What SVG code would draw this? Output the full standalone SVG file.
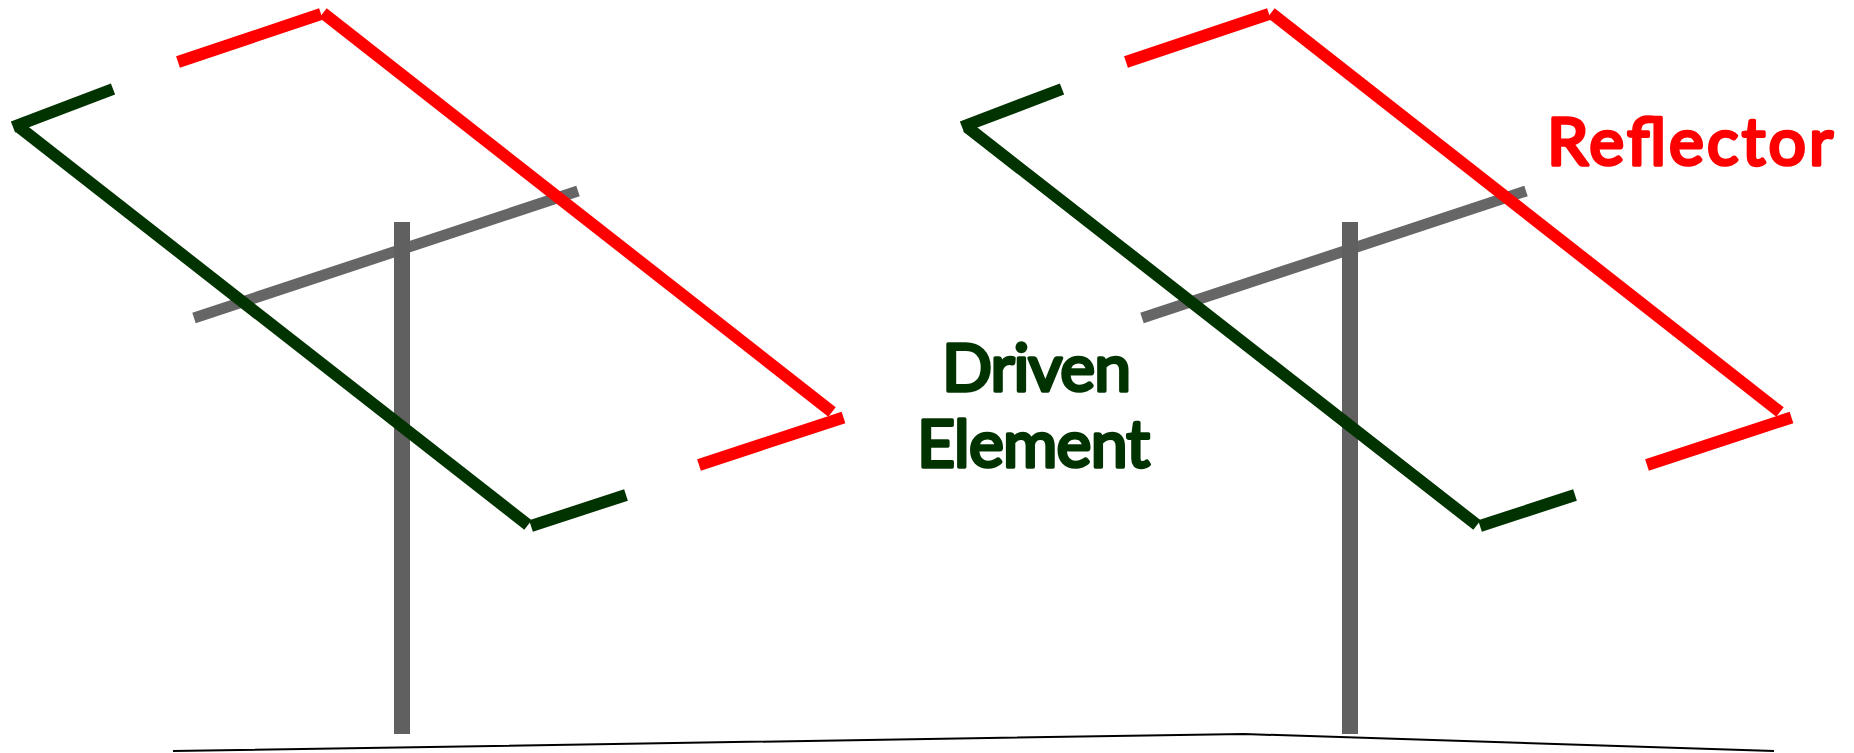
<svg xmlns="http://www.w3.org/2000/svg" width="1854" height="753" viewBox="0 0 1854 753">
<style>
.seg{fill:none;stroke-width:12;stroke-linecap:butt}
.gray{stroke:#666666;stroke-width:11}
.pole{stroke:#606060;stroke-width:16}
.green{stroke:#003300}
.red{stroke:#ff0000}
.ground{fill:none;stroke:#000000;stroke-width:2}
text{font-family:"Comic Sans MS","Lato","DejaVu Sans",sans-serif;font-weight:400;font-size:66px;stroke-width:3.5;stroke-linejoin:round;stroke-linecap:round}
.tg{fill:#003300;stroke:#003300}
.tr{fill:#ff0000;stroke:#ff0000}
</style>
<g id="ground"><polyline class="ground" points="173,751 1244,734 1774,751"/></g>
<g id="antenna-left">
<line class="seg gray" x1="194" y1="318" x2="578" y2="191"/>
<line class="seg pole" x1="402" y1="222" x2="402" y2="734"/>
<line class="seg red" x1="178" y1="62" x2="321" y2="14"/>
<line class="seg red" x1="323" y1="13" x2="832" y2="412"/>
<line class="seg red" x1="699" y1="465" x2="843.5" y2="417.5"/>
<line class="seg green" x1="113" y1="89" x2="13" y2="127"/>
<line class="seg green" x1="19" y1="127" x2="528" y2="525"/>
<line class="seg green" x1="531" y1="526" x2="626" y2="495"/>
</g>
<g id="antenna-right">
<line class="seg gray" x1="1142" y1="318" x2="1526" y2="191"/>
<line class="seg pole" x1="1350" y1="222" x2="1350" y2="734"/>
<line class="seg red" x1="1126" y1="62" x2="1269" y2="14"/>
<line class="seg red" x1="1271" y1="13" x2="1780" y2="412"/>
<line class="seg red" x1="1647" y1="465" x2="1791.5" y2="417.5"/>
<line class="seg green" x1="1062" y1="89" x2="962" y2="127"/>
<line class="seg green" x1="967" y1="127" x2="1477" y2="525"/>
<line class="seg green" x1="1480" y1="526" x2="1575" y2="495"/>
</g>
<g id="label-driven">
<text class="tg" x="942" y="391" textLength="189" lengthAdjust="spacing">Driven</text>
<text class="tg" x="917" y="467" textLength="233" lengthAdjust="spacing">Element</text>
</g>
<g id="label-reflector"><text class="tr" x="1547" y="165" textLength="286" lengthAdjust="spacing">Reflector</text></g>
</svg>
